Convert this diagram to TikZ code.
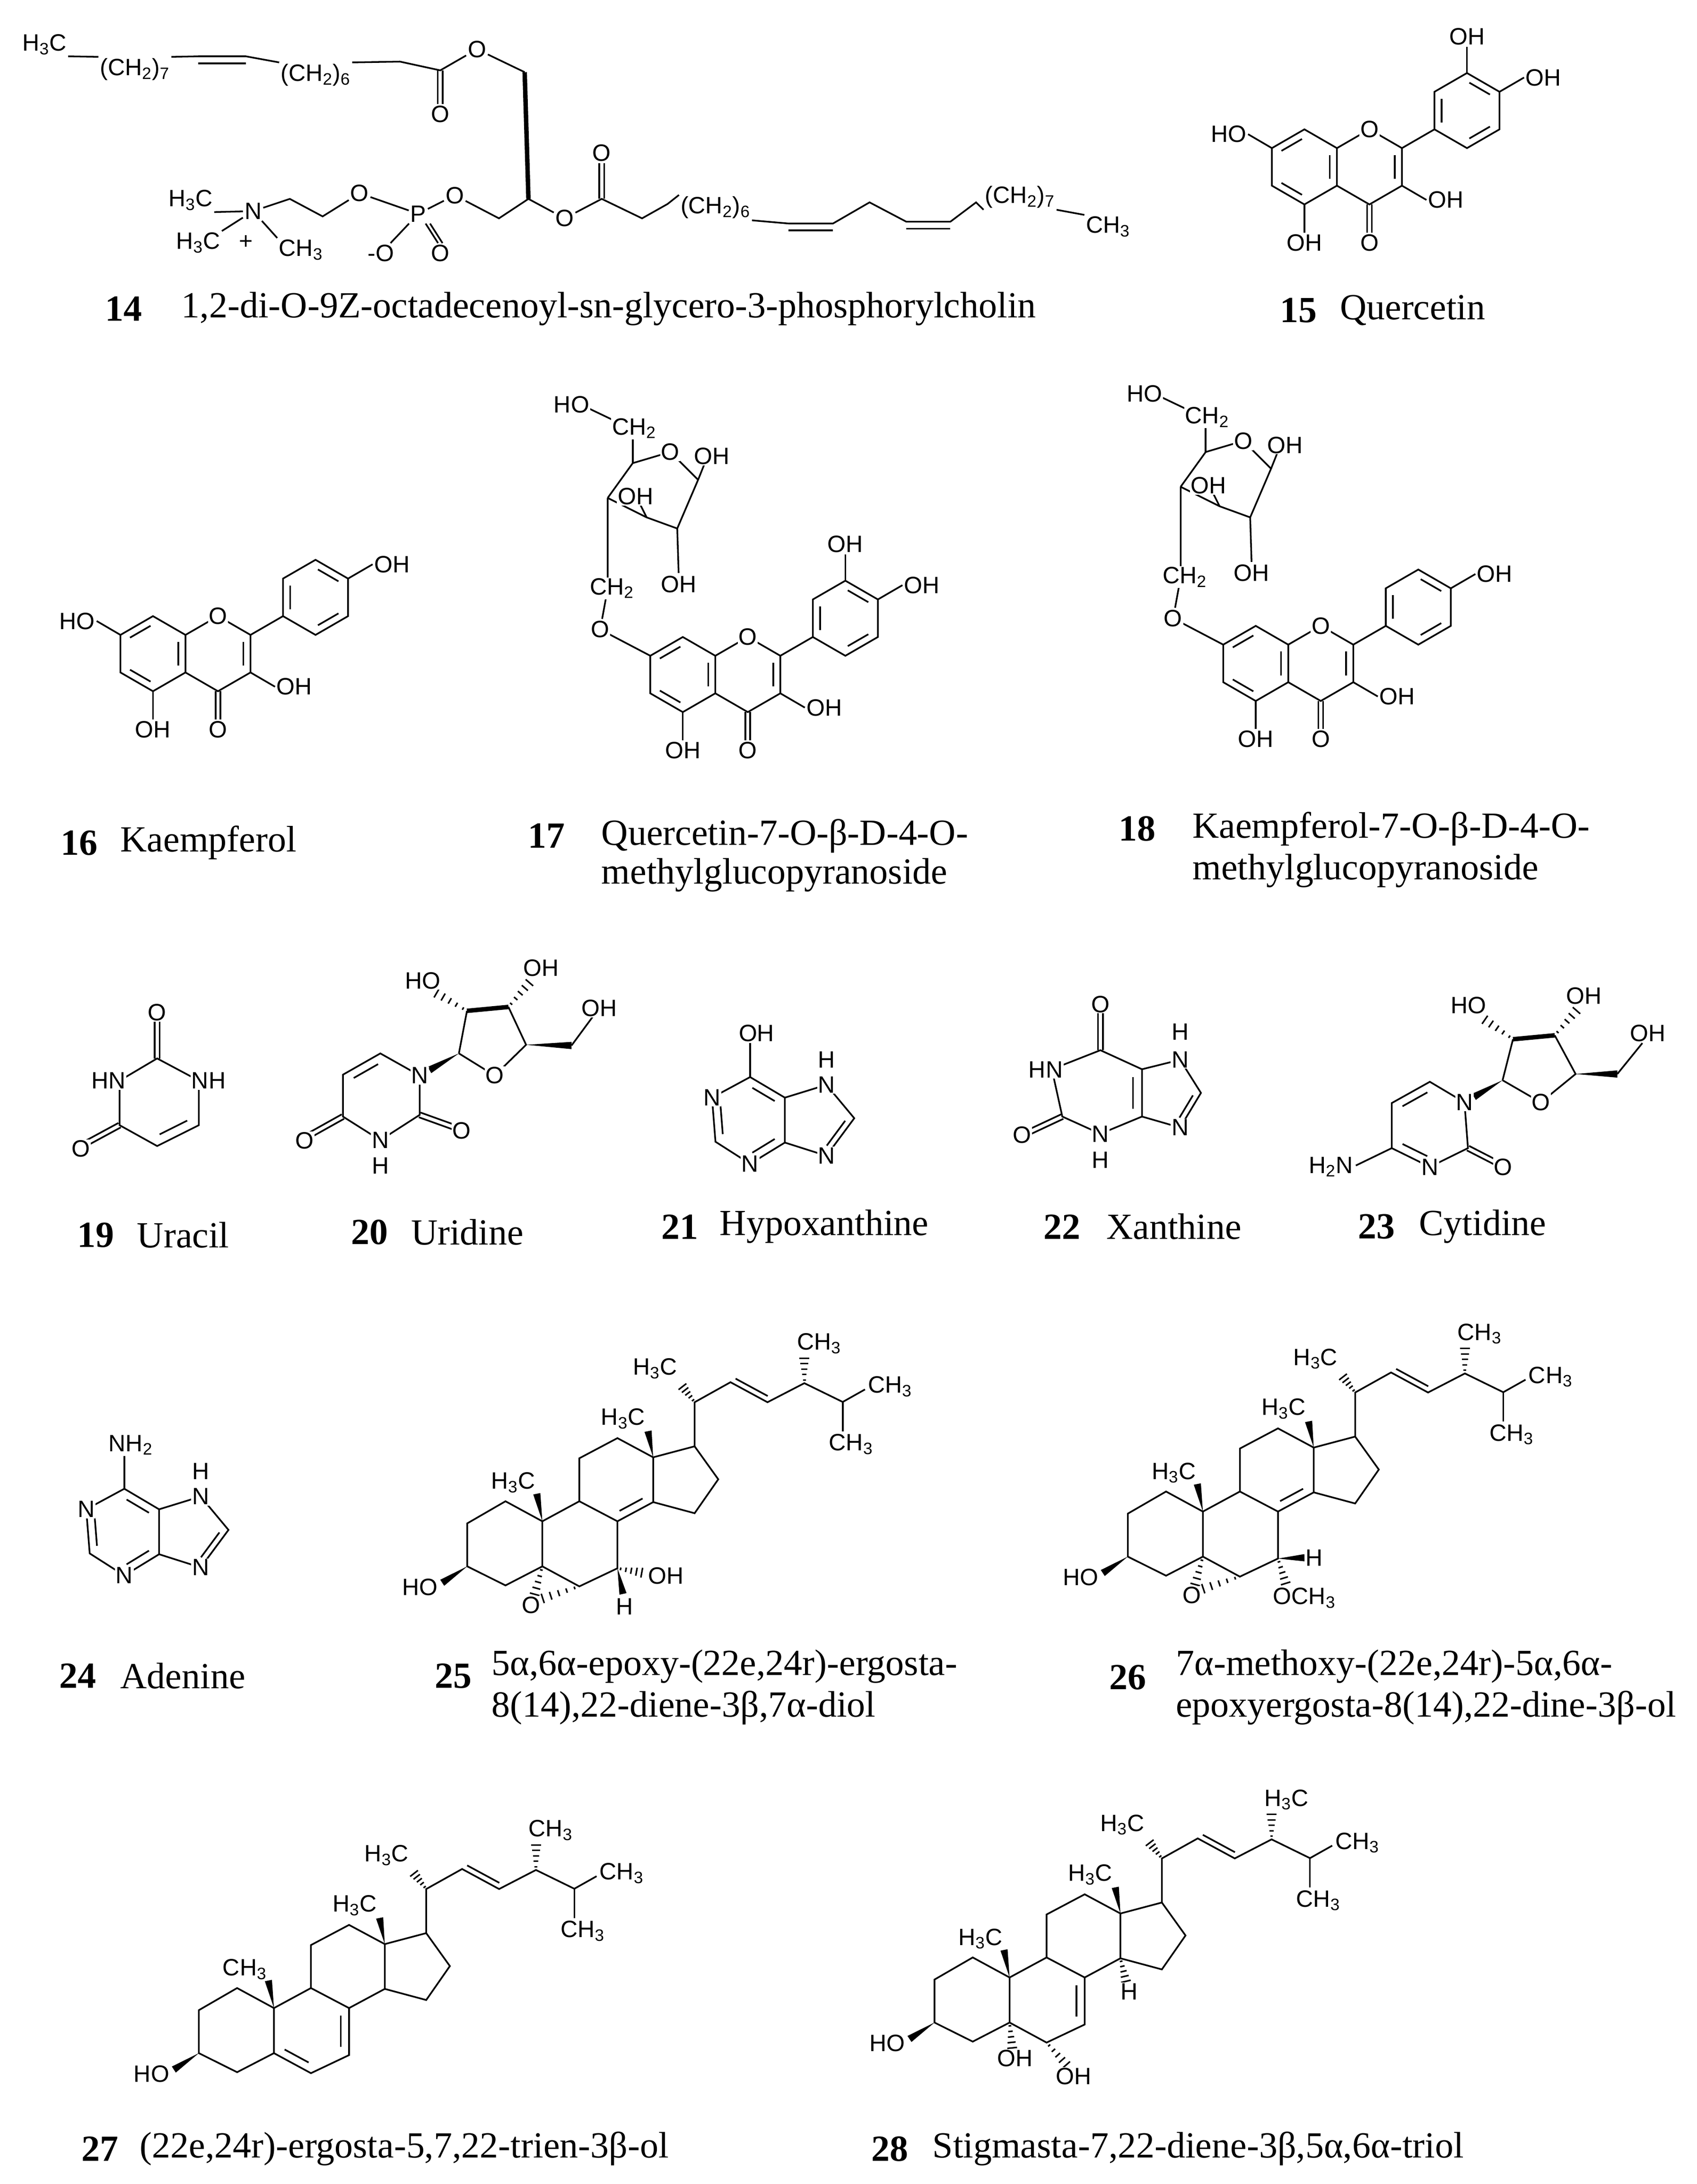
\documentclass[tikz,border=0pt]{standalone}
\usepackage{fontspec}
\setmainfont{Liberation Serif}
\newfontfamily\labfont{Liberation Sans}
\usetikzlibrary{calc}
\tikzset{
 lab/.style={font=\labfont\fontsize{17}{17}\selectfont, inner sep=0.6pt, fill=white},
 captxt/.style={font=\fontsize{26.5}{28}\selectfont, anchor=west, inner sep=0pt},
 capnum/.style={font=\bfseries\fontsize{26.5}{28}\selectfont, anchor=west, inner sep=0pt},
 bold/.style={line width=3.2pt}
}
\newcommand\dbl[3]{\draw[shorten <=2pt,shorten >=2pt] ($(#2)!0.22!(#1)$) -- ($(#3)!0.22!(#1)$);}
\newcommand\dblo[2]{\draw[shorten <=2pt,shorten >=2pt] ($(#1)!4pt!90:(#2)$) -- ($(#2)!4pt!-90:(#1)$);}
\newcommand\dblc[2]{\draw ($(#1)!1.8pt!90:(#2)$) -- ($(#2)!1.8pt!-90:(#1)$); \draw ($(#1)!1.8pt!-90:(#2)$) -- ($(#2)!1.8pt!90:(#1)$);}
\newcommand\wdg[2]{\fill ($(#2)!2.6pt!90:(#1)$) -- (#1) -- ($(#2)!2.6pt!-90:(#1)$) -- cycle;}
\newcommand\hsh[2]{\foreach \hh in {0.12,0.32,0.52,0.72,0.92}{\pgfmathsetlengthmacro\ww{\hh*3.2pt+0.6pt}\path coordinate (hp) at ($(#1)!\hh!(#2)$); \draw[line width=1.1pt] ($(hp)!\ww!90:(#2)$) -- ($(hp)!\ww!-90:(#2)$);}}
% flavone: x y r quercetin glyco
\newcommand\flavone[5]{%
\begin{scope}[shift={(#1,#2)},scale=#3]
\coordinate (a1) at (0,-1); \coordinate (a2) at (0.866,-0.5); \coordinate (a3) at (0.866,0.5);
\coordinate (a4) at (0,1); \coordinate (a5) at (-0.866,0.5); \coordinate (a6) at (-0.866,-0.5);
\coordinate (c1) at (1.732,-1); \coordinate (c2) at (2.598,-0.5); \coordinate (c3) at (2.598,0.5); \coordinate (c4) at (1.732,1);
\coordinate (b1) at (3.464,-1); \coordinate (b2) at (3.464,-2); \coordinate (b3) at (4.33,-2.5);
\coordinate (b4) at (5.196,-2); \coordinate (b5) at (5.196,-1); \coordinate (b6) at (4.33,-0.5);
\coordinate (ac) at (0,0); \coordinate (cc) at (1.732,0); \coordinate (bc) at (4.33,-1.5);
\draw (a1)--(a2)--(a3)--(a4)--(a5)--(a6)--cycle;
\draw (a2)--(c1)--(c2)--(c3)--(c4)--(a3);
\draw (c2)--(b1);
\draw (b1)--(b2)--(b3)--(b4)--(b5)--(b6)--cycle;
\dbl{ac}{a6}{a1}\dbl{ac}{a2}{a3}\dbl{ac}{a4}{a5}
\dbl{cc}{c2}{c3}
\dbl{bc}{b1}{b2}\dbl{bc}{b3}{b4}\dbl{bc}{b5}{b6}
\draw (1.67,1) -- (1.67,1.75); \draw (1.794,1) -- (1.794,1.75);
\node[lab,anchor=north] at (1.732,1.75) {O};
\node[lab] at (1.732,-1) {O};
\draw (2.598,0.5) -- (3.25,0.88) node[lab,anchor=west]{OH};
\draw (0,1) -- (0,1.75) node[lab,anchor=north]{OH};
\ifnum#5=0 \draw (-0.866,-0.5) -- (-1.5,-0.87) node[lab,anchor=east]{HO};\else \draw (-0.866,-0.5) -- (-2.2,-1.2) node[lab]{O};\fi
\draw (5.196,-2) -- (5.85,-2.38) node[lab,anchor=west]{OH};
\ifnum#4=1 \draw (4.33,-2.5) -- (4.33,-3.2) node[lab,anchor=south]{OH};\fi
\end{scope}}
% sugar (coordinates of 17)
\newcommand\sugar[2]{%
\begin{scope}[shift={(#1,#2)}]
\coordinate (s5) at (455,333); \coordinate (so) at (482,325); \coordinate (s1) at (502,345);
\coordinate (s2) at (487,380); \coordinate (s3) at (465,372); \coordinate (s4) at (437,358);
\draw (s4)--(s5)--(so)--(s1)--(s2)--(s3)--(s4);
\draw (s5)--(455,310); \draw (445,304)--(422,293);
\draw (s1)--(508,330); \draw (s3)--(458,358); \draw (s2)--(488,412);
\draw (s4)--(437,423)--(433,445);
\node[lab] at (so) {O};
\node[lab] at (456,308) {CH\textsubscript{2}};
\node[lab] at (411,291) {HO};
\node[lab] at (512,328) {OH};
\node[lab] at (457,357) {OH};
\node[lab] at (488,420) {OH};
\node[lab] at (440,423) {CH\textsubscript{2}};
\end{scope}}
% steroid skeleton: #1 C10 label, #2 C24 label
\newcommand\sterbase[2]{%
\coordinate (C1) at (363.5,1079.4); \coordinate (C2) at (336,1095.3); \coordinate (C3) at (336,1126.2);
\coordinate (C4) at (363.5,1139.9); \coordinate (C5) at (390,1126.2); \coordinate (C10) at (390,1093.8);
\coordinate (C9) at (416.6,1079.4); \coordinate (C8) at (444,1093.8); \coordinate (C7) at (444,1127.6);
\coordinate (C6) at (416.6,1140.6); \coordinate (C11) at (416.6,1048.5); \coordinate (C12) at (444,1034);
\coordinate (C13) at (469.7,1047.8); \coordinate (C14) at (469.7,1080); \coordinate (C17) at (499.5,1039.9);
\coordinate (C16) at (516.5,1063.6); \coordinate (C15) at (499.5,1088); \coordinate (C20) at (499.5,1008.2);
\coordinate (C21) at (490,996); \coordinate (C22) at (525.3,993.8); \coordinate (C23) at (551.9,1008.2);
\coordinate (C24) at (578.4,994.5); \coordinate (C28) at (578.4,975); \coordinate (C25) at (606,1008);
\coordinate (C26) at (622,999); \coordinate (C27) at (606,1029);
\coordinate (rb) at (417,1110); \coordinate (rc) at (443,1064);
\draw (C1)--(C2)--(C3)--(C4)--(C5)--(C10)--cycle;
\draw (C5)--(C6)--(C7)--(C8)--(C9)--(C10);
\draw (C9)--(C11)--(C12)--(C13)--(C14)--(C8);
\draw (C13)--(C17)--(C16)--(C15)--(C14);
\draw (C17)--(C20)--(C22)--(C23)--(C24)--(C25)--(C26);
\draw (C25)--(C27);
\dblo{C22}{C23}
\hsh{C20}{C21}\hsh{C24}{C28}
\wdg{C10}{386,1074}\wdg{C13}{466,1029}\wdg{C3}{318,1138}
\node[lab] at (471,984) {H\textsubscript{3}C};
\node[lab] at (589,966) {#2};
\node[lab,anchor=west] at (623,997) {CH\textsubscript{3}};
\node[lab,anchor=north] at (612,1030) {CH\textsubscript{3}};
\node[lab] at (369,1066) {#1};
\node[lab] at (448,1020) {H\textsubscript{3}C};
\node[lab] at (302,1141) {HO};
}
\begin{document}
\begin{tikzpicture}[x=1pt,y=-1pt,line width=1.2pt,line join=miter]
\useasboundingbox[fill=white] (0,0) rectangle (1220,1570.3);
% ===== 14 =====
\node[lab] (l1) at (32,32) {H\textsubscript{3}C};
\node[lab] (l2) at (97,50) {(CH\textsubscript{2})\textsubscript{7}};
\node[lab] (l3) at (227,54) {(CH\textsubscript{2})\textsubscript{6}};
\coordinate (p2) at (142.5,40.5); \coordinate (p3) at (176.8,40.5);
\draw (l1.south east) -- (l2.north west);
\draw (l2.north east) -- (p2); \draw (p2)--(p3); \draw ([yshift=-5pt]p2) -- ([yshift=-5pt]p3);
\draw (p3) -- (l3.north west);
\coordinate (q2) at (287.6,44.3); \coordinate (q3) at (316.6,50.6); \coordinate (q5) at (377.3,51.9);
\coordinate (g2) at (380,143); \coordinate (g1) at (358.8,157);
\node[lab] (o1) at (343,35.4) {O};
\node[lab] (o2) at (316.6,82) {O};
\draw (l3.north east) -- (q2) -- (q3) -- (o1) -- (q5);
\draw ([xshift=-1.8pt]q3) -- ([xshift=-1.8pt]o2.north); \draw ([xshift=1.8pt]q3) -- ([xshift=1.8pt]o2.north);
\draw[bold] (q5) -- (g2);
\node[lab] (o3) at (406,157) {O};
\node[lab] (o4) at (432.7,110) {O};
\coordinate (k1) at (432.7,143); \coordinate (k2) at (461.7,157); \coordinate (k3) at (480,146.7);
\node[lab] (l4) at (514.5,149.3) {(CH\textsubscript{2})\textsubscript{6}};
\coordinate (m1) at (567,160.7); \coordinate (m2) at (599,160.7); \coordinate (m3) at (625.3,145.5);
\coordinate (m4) at (651.7,159.4); \coordinate (m5) at (683.4,159.4); \coordinate (m6) at (701.9,145.5);
\node[lab] (l5) at (733.5,141.7) {(CH\textsubscript{2})\textsubscript{7}};
\node[lab] (l6) at (796.8,163) {CH\textsubscript{3}};
\draw (g2) -- (o3) -- (k1) -- (k2) -- (k3) -- (l4.north west);
\draw ([xshift=-1.8pt]k1) -- ([xshift=-1.8pt]o4.south); \draw ([xshift=1.8pt]k1) -- ([xshift=1.8pt]o4.south);
\draw (l4.south east) -- (m1) -- (m2) -- (m3) -- (m4) -- (m5) -- (m6) -- (l5.south west);
\draw ([yshift=-5pt]m1) -- ([yshift=-5pt]m2); \draw ([yshift=-5pt]m4) -- ([yshift=-5pt]m5);
\draw (l5.south east) -- (l6.north west);
\node[lab] (o5) at (327,140.4) {O};
\node[lab] (pp) at (300.8,153.7) {P};
\node[lab] (o6) at (316.6,182) {O};
\node[lab] (o7) at (274,182) {-O};
\node[lab] (o8) at (258.6,139) {O};
\coordinate (n1) at (232,155.6); \coordinate (n2) at (208.4,143);
\node[lab] (nn) at (182,151.8) {N};
\node[lab] (h1) at (137,144) {H\textsubscript{3}C};
\node[lab] (h2) at (142.5,174.6) {H\textsubscript{3}C};
\node[lab] (h3) at (216.4,179.6) {CH\textsubscript{3}};
\node[lab] at (177,174) {+};
\draw (g2) -- (g1) -- (o5) -- (pp); \draw (pp) -- (o7); \draw (pp) -- (o8) -- (n1) -- (n2) -- (nn);
\draw ([xshift=-1.6pt]pp.south east) -- ([xshift=-1.6pt]o6.north); \draw ([xshift=1.6pt]pp.south east) -- ([xshift=1.6pt]o6.north);
\draw (nn) -- (h1.south east); \draw (nn) -- (h2.north east); \draw (nn) -- (h3.north west);
\node[capnum] at (75,222) {14};
\node[captxt] at (130,222) {1,2-di-O-9Z-octadecenoyl-sn-glycero-3-phosphorylcholin};
% ===== flavonoids =====
\flavone{938}{120}{27}{1}{0}
\flavone{110}{470}{27}{0}{0}
\flavone{491}{485}{27}{1}{1}
\flavone{903}{477}{27}{0}{1}
\sugar{0}{0}
\sugar{412}{-8}
\node[capnum] at (920,223) {15}; \node[captxt] at (963,223) {Quercetin};
\node[capnum] at (43,606) {16}; \node[captxt] at (86,606) {Kaempferol};
\node[capnum] at (379,601) {17}; \node[captxt] at (432,601) {Quercetin-7-O-β-D-4-O-};
\node[captxt] at (432,629) {methylglucopyranoside};
\node[capnum] at (804,596) {18}; \node[captxt] at (857,596) {Kaempferol-7-O-β-D-4-O-};
\node[captxt] at (857,626) {methylglucopyranoside};
% ===== 19 uracil =====
\coordinate (uc2) at (113,761); \coordinate (un3) at (86,777); \coordinate (uc4) at (86,809);
\coordinate (uc5) at (113,824); \coordinate (uc6) at (143,809); \coordinate (un1) at (143,777);
\coordinate (uo) at (113,790);
\draw (uc2)--(un3)--(uc4)--(uc5)--(uc6)--(un1)--cycle;
\dbl{uo}{uc5}{uc6}
\dblc{uc2}{113,734}\dblc{uc4}{62,822}
\node[lab] at (113,728) {O}; \node[lab] at (58,826) {O};
\node[lab] at (78,777) {HN}; \node[lab] at (150,777) {NH};
\node[capnum] at (55,888) {19}; \node[captxt] at (98,888) {Uracil};
% ===== 20 uridine =====
\coordinate (r1) at (301.8,773.3); \coordinate (r6) at (273.5,757.4); \coordinate (r5) at (246.6,772.7);
\coordinate (r4) at (246.6,802.8); \coordinate (r3) at (273.5,819.8); \coordinate (r2) at (301.8,801.6);
\coordinate (rcn) at (274,788);
\draw (r1)--(r6)--(r5)--(r4)--(r3)--(r2)--cycle;
\dbl{rcn}{r6}{r5}
\dblc{r4}{223,816}\dblc{r2}{328,811}
\coordinate (t1) at (330,757.4); \coordinate (to) at (355.7,773.3); \coordinate (t4) at (378.3,751.2);
\coordinate (t3) at (365.6,724); \coordinate (t2) at (335.8,726.8); \coordinate (t5) at (411,751.7);
\draw (t1)--(to)--(t4)--(t3); \draw (t2)--(t1); \draw[bold] (t2)--(t3);
\wdg{t1}{$(t1)!0.75!(r1)$} \wdg{t4}{t5}
\draw (t5)--(427,730);
\hsh{t2}{312,713}\hsh{t3}{382,705}
\node[lab] at (r1) {N}; \node[lab] at (r3) {N}; \node[lab] at (273.5,838) {H};
\node[lab] at (219,820) {O}; \node[lab] at (332,813) {O}; \node[lab] at (to) {O};
\node[lab] at (304,705) {HO}; \node[lab] at (389,696) {OH}; \node[lab] at (431,725) {OH};
\node[capnum] at (252,886) {20}; \node[captxt] at (295,886) {Uridine};
% ===== 21 hypoxanthine & 24 adenine =====
\foreach \dx/\dy/\sub/\nm in {0/0/OH/h,-450/296/NH\textsubscript{2}/a}{
\begin{scope}[shift={(\dx,\dy)}]
\coordinate (\nm6) at (539.4,774.4); \coordinate (\nm1) at (512,789.2); \coordinate (\nm2) at (514.5,820.9);
\coordinate (\nm3) at (539.4,836.8); \coordinate (\nm4) at (564.4,821.5); \coordinate (\nm5) at (564.4,789.2);
\coordinate (\nm7) at (594.3,780); \coordinate (\nm8) at (614.3,804); \coordinate (\nm9) at (594.3,831);
\coordinate (\nm c) at (539,805); \coordinate (\nm d) at (590,805);
\draw (\nm6)--(\nm1)--(\nm2)--(\nm3)--(\nm4)--(\nm5)--cycle;
\draw (\nm5)--(\nm7)--(\nm8)--(\nm9)--(\nm4);
\dbl{\nm c}{\nm1}{\nm2}\dbl{\nm c}{\nm5}{\nm6}\dbl{\nm c}{\nm3}{\nm4}\dbl{\nm d}{\nm8}{\nm9}
\draw (\nm6)--(539.4,750);
\node[lab] at (544,743) {\sub};
\node[lab] at (\nm1) {N}; \node[lab] at (\nm3) {N}; \node[lab] at (\nm7) {N};
\node[lab] at (594.3,762) {H}; \node[lab] at (\nm9) {N};
\end{scope}}
\node[capnum] at (475,882) {21}; \node[captxt] at (517,882) {Hypoxanthine};
\node[capnum] at (42,1205) {24}; \node[captxt] at (86,1205) {Adenine};
% ===== 22 xanthine =====
\coordinate (x6) at (791.3,755.1); \coordinate (x1) at (756.4,768.8); \coordinate (x2) at (763.9,802.8);
\coordinate (x3) at (791.3,815.2); \coordinate (x4) at (821.2,802.8); \coordinate (x5) at (821.2,768.8);
\coordinate (x7) at (848.6,762); \coordinate (x8) at (863.6,785.8); \coordinate (x9) at (848.6,810.7);
\coordinate (xc) at (792,786); \coordinate (xd) at (842,786);
\draw (x6)--(x1)--(x2)--(x3)--(x4)--(x5)--cycle;
\draw (x5)--(x7)--(x8)--(x9)--(x4);
\dbl{xc}{x4}{x5}\dbl{xd}{x8}{x9}
\dblc{x6}{791.3,728}\dblc{x2}{740,814}
\node[lab] at (791.3,722) {O}; \node[lab] at (735,816) {O};
\node[lab] at (752,769) {HN}; \node[lab] at (x3) {N}; \node[lab] at (791.3,834) {H};
\node[lab] at (x7) {N}; \node[lab] at (848.6,742) {H}; \node[lab] at (x9) {N};
\node[capnum] at (750,882) {22}; \node[captxt] at (795,882) {Xanthine};
% ===== 23 cytidine =====
\coordinate (y1) at (1053.1,792.6); \coordinate (y6) at (1028.2,777.8); \coordinate (y5) at (1000.8,793.1);
\coordinate (y4) at (1000.8,825.5); \coordinate (y3) at (1028.2,839); \coordinate (y2) at (1055.6,825.5);
\coordinate (yc) at (1028,808);
\draw (y1)--(y6)--(y5)--(y4)--(y3)--(y2)--cycle;
\dbl{yc}{y6}{y5}\dbl{yc}{y4}{y3}
\draw (y4)--(975,838); \dblc{y2}{1078,837}
\coordinate (z1) at (1080.5,776.7); \coordinate (zo) at (1108,792.6); \coordinate (z4) at (1133,772.2);
\coordinate (z3) at (1118,744.4); \coordinate (z2) at (1088,747.2); \coordinate (z5) at (1163,772.2);
\draw (z1)--(zo)--(z4)--(z3); \draw (z2)--(z1); \draw[bold] (z2)--(z3);
\wdg{z1}{$(z1)!0.75!(y1)$} \wdg{z4}{z5}
\draw (z5)--(1181,750);
\hsh{z2}{1066,732}\hsh{z3}{1135,725}
\node[lab] at (y1) {N}; \node[lab] at (y3) {N}; \node[lab] at (zo) {O};
\node[lab] at (957,839) {H\textsubscript{2}N}; \node[lab] at (1081,839) {O};
\node[lab] at (1056,723) {HO}; \node[lab] at (1139,716) {OH}; \node[lab] at (1185,743) {OH};
\node[capnum] at (976,882) {23}; \node[captxt] at (1020,882) {Cytidine};
% ===== 25 =====
\begin{scope}
\sterbase{H\textsubscript{3}C}{CH\textsubscript{3}}
\dbl{rc}{C8}{C14}
\hsh{C5}{384,1148}\hsh{C6}{388,1150}
\hsh{C7}{463,1131}\wdg{C7}{448,1146}
\node[lab] at (382,1154) {O};
\node[lab] at (479,1133) {OH};
\node[lab] at (449,1155) {H};
\end{scope}
\node[capnum] at (312,1205) {25};
\node[captxt] at (353,1198) {5α,6α-epoxy-(22e,24r)-ergosta-};
\node[captxt] at (353,1228) {8(14),22-diene-3β,7α-diol};
% ===== 26 =====
\begin{scope}[shift={(475,-7)}]
\sterbase{H\textsubscript{3}C}{CH\textsubscript{3}}
\dbl{rc}{C8}{C14}
\hsh{C5}{384,1148}\hsh{C6}{388,1150}
\wdg{C7}{463,1127}\hsh{C7}{450,1147}
\node[lab] at (382,1154) {O};
\node[lab] at (470,1127) {H};
\node[lab] at (463,1156) {OCH\textsubscript{3}};
\end{scope}
\node[capnum] at (797,1206) {26};
\node[captxt] at (845,1198) {7α-methoxy-(22e,24r)-5α,6α-};
\node[captxt] at (845,1228) {epoxyergosta-8(14),22-dine-3β-ol};
% ===== 27 =====
\begin{scope}[shift={(-193,350)}]
\sterbase{CH\textsubscript{3}}{CH\textsubscript{3}}
\dbl{rb}{C5}{C6}\dbl{rb}{C7}{C8}
\end{scope}
\node[capnum] at (58,1545) {27};
\node[captxt] at (100,1545) {(22e,24r)-ergosta-5,7,22-trien-3β-ol};
% ===== 28 =====
\begin{scope}[shift={(336,328)}]
\sterbase{H\textsubscript{3}C}{H\textsubscript{3}C}
\dbl{rb}{C7}{C8}
\hsh{C5}{392,1146}\hsh{C6}{432,1158}\hsh{C14}{474,1098}
\node[lab] at (394,1152) {OH};
\node[lab] at (436,1165) {OH};
\node[lab] at (476,1104) {H};
\end{scope}
\node[capnum] at (626,1545) {28};
\node[captxt] at (670,1545) {Stigmasta-7,22-diene-3β,5α,6α-triol};
\end{tikzpicture}
\end{document}
